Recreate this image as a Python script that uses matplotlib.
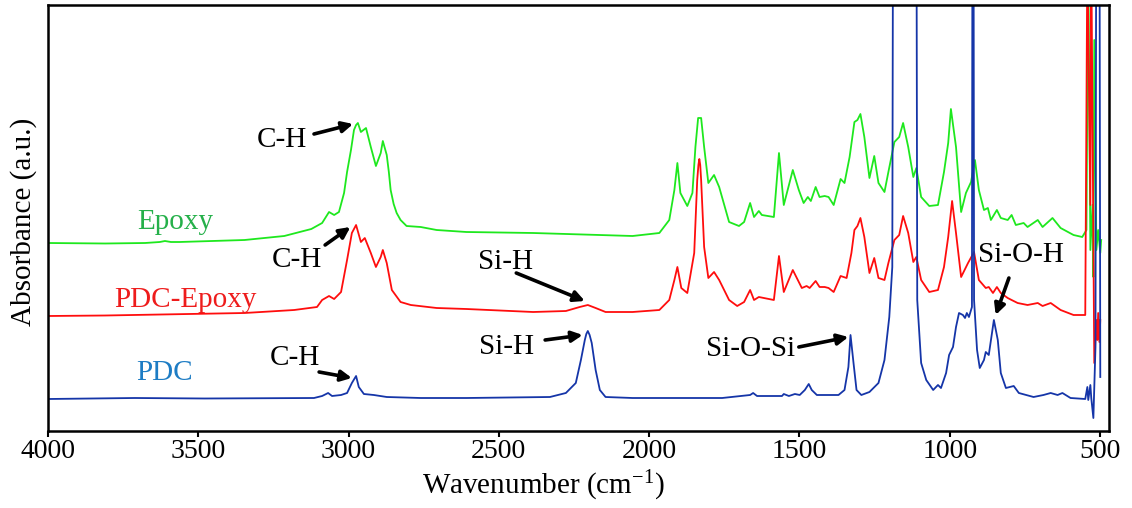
import matplotlib
matplotlib.use("Agg")
import matplotlib.pyplot as plt

plt.rcParams['font.family'] = ['Liberation Serif', 'DejaVu Serif']
plt.rcParams['mathtext.fontset'] = 'custom'
plt.rcParams['mathtext.rm'] = 'Liberation Serif'
plt.rcParams['mathtext.it'] = 'Liberation Serif:italic'
plt.rcParams['mathtext.bf'] = 'Liberation Serif:bold'

# ---------------- data (wavenumber cm-1, absorbance a.u.) ----------------
epoxy_wn = [4000, 3810, 3677, 3628, 3611, 3591, 3562, 3346, 3214, 3124, 3088, 3065, 3048, 3032,
            3015, 3005, 2992, 2982, 2975, 2969, 2959, 2942, 2926, 2909, 2893, 2886, 2873, 2866,
            2860, 2850, 2840, 2827, 2807,
            2760, 2707, 2608, 2386, 2164, 2055, 1966, 1933, 1916, 1906, 1896, 1873, 1856, 1846,
            1837, 1827, 1817, 1803, 1784, 1767, 1734, 1701, 1684, 1664, 1651, 1635, 1625, 1585,
            1568, 1552, 1522, 1502, 1486, 1472, 1462, 1446, 1433, 1416, 1403, 1386, 1363, 1350,
            1333, 1317, 1307, 1297, 1284, 1267, 1251, 1237, 1217, 1204, 1184, 1168, 1155, 1138,
            1121, 1111, 1095, 1068, 1039, 1019, 1005, 996, 979, 962, 946, 929, 916, 903, 886,
            873, 863, 843, 830, 807, 794, 780, 754, 741, 707, 691, 658, 631, 588, 559, 545,
            539, 532, 525, 522, 519, 512, 506, 499, 496]
epoxy_abs = [1.88, 1.875, 1.88, 1.89, 1.90, 1.89, 1.89, 1.91, 1.95, 2.02, 2.08, 2.19, 2.16, 2.19,
             2.38, 2.59, 2.81, 3.01, 3.06, 3.08, 2.99, 3.03, 2.84, 2.65, 2.78, 2.90, 2.76, 2.59,
             2.41, 2.27, 2.18, 2.11, 2.05,
             2.04, 2.01, 1.99, 1.98, 1.96, 1.95, 1.98, 2.11, 2.41, 2.68, 2.38, 2.25, 2.38, 2.84,
             3.13, 3.13, 2.84, 2.48, 2.56, 2.44, 2.09, 2.05, 2.09, 2.28, 2.14, 2.20, 2.16, 2.14,
             2.78, 2.26, 2.61, 2.41, 2.28, 2.34, 2.30, 2.44, 2.34, 2.35, 2.34, 2.26, 2.52, 2.48,
             2.74, 3.09, 3.11, 3.17, 2.94, 2.53, 2.75, 2.48, 2.39, 2.59, 2.89, 2.94, 3.08, 2.84,
             2.54, 2.63, 2.34, 2.25, 2.26, 2.59, 2.88, 3.22, 2.84, 2.19, 2.38, 2.49, 2.71, 2.41, 2.21,
             2.23, 2.11, 2.21, 2.13, 2.11, 2.16, 2.06, 2.08, 2.04, 2.11, 2.04, 2.13, 2.03, 1.96, 1.94, 2.01,
             4.81, 1.81, 2.26, 1.54, 3.91, 1.81, 2.01, 1.78, 1.91]

pdc_epoxy_wn = [4000, 3810, 3346, 3181, 3105, 3088, 3065, 3048, 3025, 3005, 2989, 2975, 2959, 2946,
                2926, 2909, 2893, 2886, 2873, 2856, 2827, 2793, 2707, 2608, 2386, 2277, 2231, 2204,
                2178, 2145, 2055, 1966, 1933, 1916, 1906, 1893, 1873, 1850, 1840, 1836, 1833, 1830,
                1827, 1817,
                1803, 1784, 1767, 1734, 1707, 1684, 1664, 1651, 1635, 1585, 1568, 1552, 1522, 1492,
                1476, 1466, 1446, 1433, 1416, 1403, 1386, 1363, 1343, 1327, 1317, 1307, 1297, 1284,
                1267, 1251, 1237, 1217, 1204, 1184, 1168, 1155, 1138, 1121, 1111, 1095, 1068, 1039,
                1019, 1005, 992, 979, 962, 939, 919, 903, 880, 870, 856, 843, 830, 807, 794, 774,
                741, 707, 691, 664, 631, 588, 549,
                542, 532, 529, 519, 512, 509, 506, 502, 499]
pdc_epoxy_abs = [1.15, 1.155, 1.18, 1.21, 1.24, 1.31, 1.35, 1.32, 1.39, 1.71, 1.98, 2.06, 1.89, 1.93,
                 1.78, 1.64, 1.74, 1.81, 1.68, 1.41, 1.29, 1.26, 1.23, 1.22, 1.19, 1.20, 1.24, 1.26,
                 1.23, 1.19, 1.19, 1.21, 1.31, 1.51, 1.64, 1.43, 1.38, 1.78, 2.51, 2.66, 2.72, 2.66,
                 2.51, 1.84,
                 1.53, 1.59, 1.51, 1.31, 1.25, 1.29, 1.41, 1.31, 1.34, 1.31, 1.75, 1.39, 1.61, 1.43,
                 1.45, 1.43, 1.50, 1.44, 1.44, 1.43, 1.39, 1.55, 1.53, 1.78, 2.01, 2.05, 2.13, 1.94,
                 1.58, 1.73, 1.53, 1.51, 1.68, 1.91, 1.96, 2.15, 1.98, 1.69, 1.74, 1.51, 1.39, 1.41,
                 1.64, 1.94, 2.30, 1.98, 1.54, 1.68, 1.79, 1.51, 1.43, 1.44, 1.38, 1.44, 1.38, 1.33, 1.31, 1.28,
                 1.26, 1.28, 1.25, 1.28, 1.21, 1.16, 1.16,
                 4.81, 2.26, 4.81, 0.68, 1.11, 0.91, 1.18, 0.89, 1.11]

pdc_wn = [4000, 3711, 3479, 3115, 3088, 3068, 3055, 3025, 3005, 2989, 2975, 2966, 2949, 2916,
          2873, 2760, 2608, 2330, 2277, 2244, 2227, 2214, 2209, 2204, 2198, 2191, 2178, 2164, 2145, 2055,
          1757, 1664, 1654, 1641, 1558, 1552, 1535, 1515, 1499, 1482, 1469, 1459, 1442, 1370,
          1350, 1337, 1330, 1320, 1310, 1294, 1267, 1237, 1217, 1201, 1191, 1188, 1151, 1111,
          1108, 1095, 1078, 1055, 1039, 1029, 1012, 1002, 989, 979, 969, 956, 949, 943, 936,
          926, 924, 921, 919, 909, 900, 886, 880, 870, 853, 840, 830, 813, 787, 770, 721, 688,
          664, 641, 625, 598, 549, 542, 539, 532, 529, 522, 515, 512, 502, 499]
pdc_abs = [0.32, 0.33, 0.325, 0.33, 0.35, 0.38, 0.35, 0.36, 0.38, 0.48, 0.55, 0.44, 0.37, 0.36,
           0.34, 0.33, 0.33, 0.34, 0.38, 0.48, 0.71, 0.91, 0.97, 1.00, 0.96, 0.88, 0.61, 0.41, 0.34, 0.33,
           0.33, 0.36, 0.38, 0.35, 0.35, 0.37, 0.35, 0.37, 0.36, 0.41, 0.47, 0.41, 0.36, 0.36,
           0.41, 0.64, 0.96, 0.68, 0.41, 0.36, 0.39, 0.48, 0.71, 1.14, 1.64, 6.0, 8.0, 6.0,
           1.31, 0.68, 0.51, 0.41, 0.46, 0.43, 0.58, 0.76, 0.84, 1.04, 1.18, 1.16, 1.13, 1.18, 1.14,
           1.24, 6.0, 6.0, 1.31, 0.81, 0.63, 0.71, 0.79, 0.76, 1.11, 0.91, 0.58, 0.43, 0.45, 0.38, 0.34, 0.36,
           0.38, 0.36, 0.38, 0.33, 0.32, 0.44, 0.31, 0.46, 0.33, 0.13, 0.84, 6.0, 6.0, 0.54]

series_names = ['Epoxy', 'PDC-Epoxy', 'PDC']
line_colors = ['#1ee81e', '#ff0d0d', '#1535a8']
name_colors = ['#25b04a', '#ee1c1c', '#1d7cc4']
name_pos = [(3578, 2.09), (3542, 1.31), (3611, 0.58)]

# peak annotations: (label, text position, arrow tail, arrow head)
annotations = [
    ('C-H', (3221, 2.91), (3115, 2.97), (2985, 3.07)),
    ('C-H', (3171, 1.71), (3078, 1.86), (2994, 2.04)),
    ('C-H', (3178, 0.73), (3098, 0.59), (2989, 0.53)),
    ('Si-H', (2479, 1.69), (2442, 1.58), (2214, 1.30)),
    ('Si-H', (2476, 0.84), (2346, 0.91), (2221, 0.96)),
    ('Si-O-Si', (1664, 0.82), (1502, 0.84), (1337, 0.94)),
    ('Si-O-H', (764, 1.76), (803, 1.53), (847, 1.16)),
]

xticks = [4000, 3500, 3000, 2500, 2000, 1500, 1000, 500]

# ---------------- figure ----------------
fig = plt.figure(figsize=(11.32, 5.08), dpi=100)
ax = fig.add_axes([48 / 1132, 77 / 508, 1061 / 1132, 426 / 508])

for wn, ab, c in zip([epoxy_wn, pdc_epoxy_wn, pdc_wn], [epoxy_abs, pdc_epoxy_abs, pdc_abs], line_colors):
    ax.plot(wn, ab, color=c, lw=1.3, solid_joinstyle='round')

for name, c, (x, y) in zip(series_names, name_colors, name_pos):
    ax.text(x, y, name, color=c, fontsize=21, ha='center', va='center')

for lab, tpos, tail, head in annotations:
    ax.text(tpos[0], tpos[1], lab, fontsize=21, ha='center', va='center', color='black')
    ax.annotate('', xy=head, xytext=tail,
                arrowprops=dict(arrowstyle='-|>', color='black', lw=2.6,
                                mutation_scale=16, shrinkA=0, shrinkB=0))

ax.set_xlim(4000, 470)
ax.set_ylim(0, 4.26)
ax.set_xticks(xticks)
ax.set_yticks([])
ax.tick_params(axis='x', direction='out', length=4, width=1.5, labelsize=20, pad=2)
for s in ax.spines.values():
    s.set_linewidth(1.8)
ax.set_xlabel(r'Wavenumber (cm$^{-1}$)', fontsize=21, x=0.467, labelpad=3)
ax.set_ylabel('Absorbance (a.u.)', fontsize=21, y=0.49, labelpad=8)

fig.savefig('out.png', dpi=100)
